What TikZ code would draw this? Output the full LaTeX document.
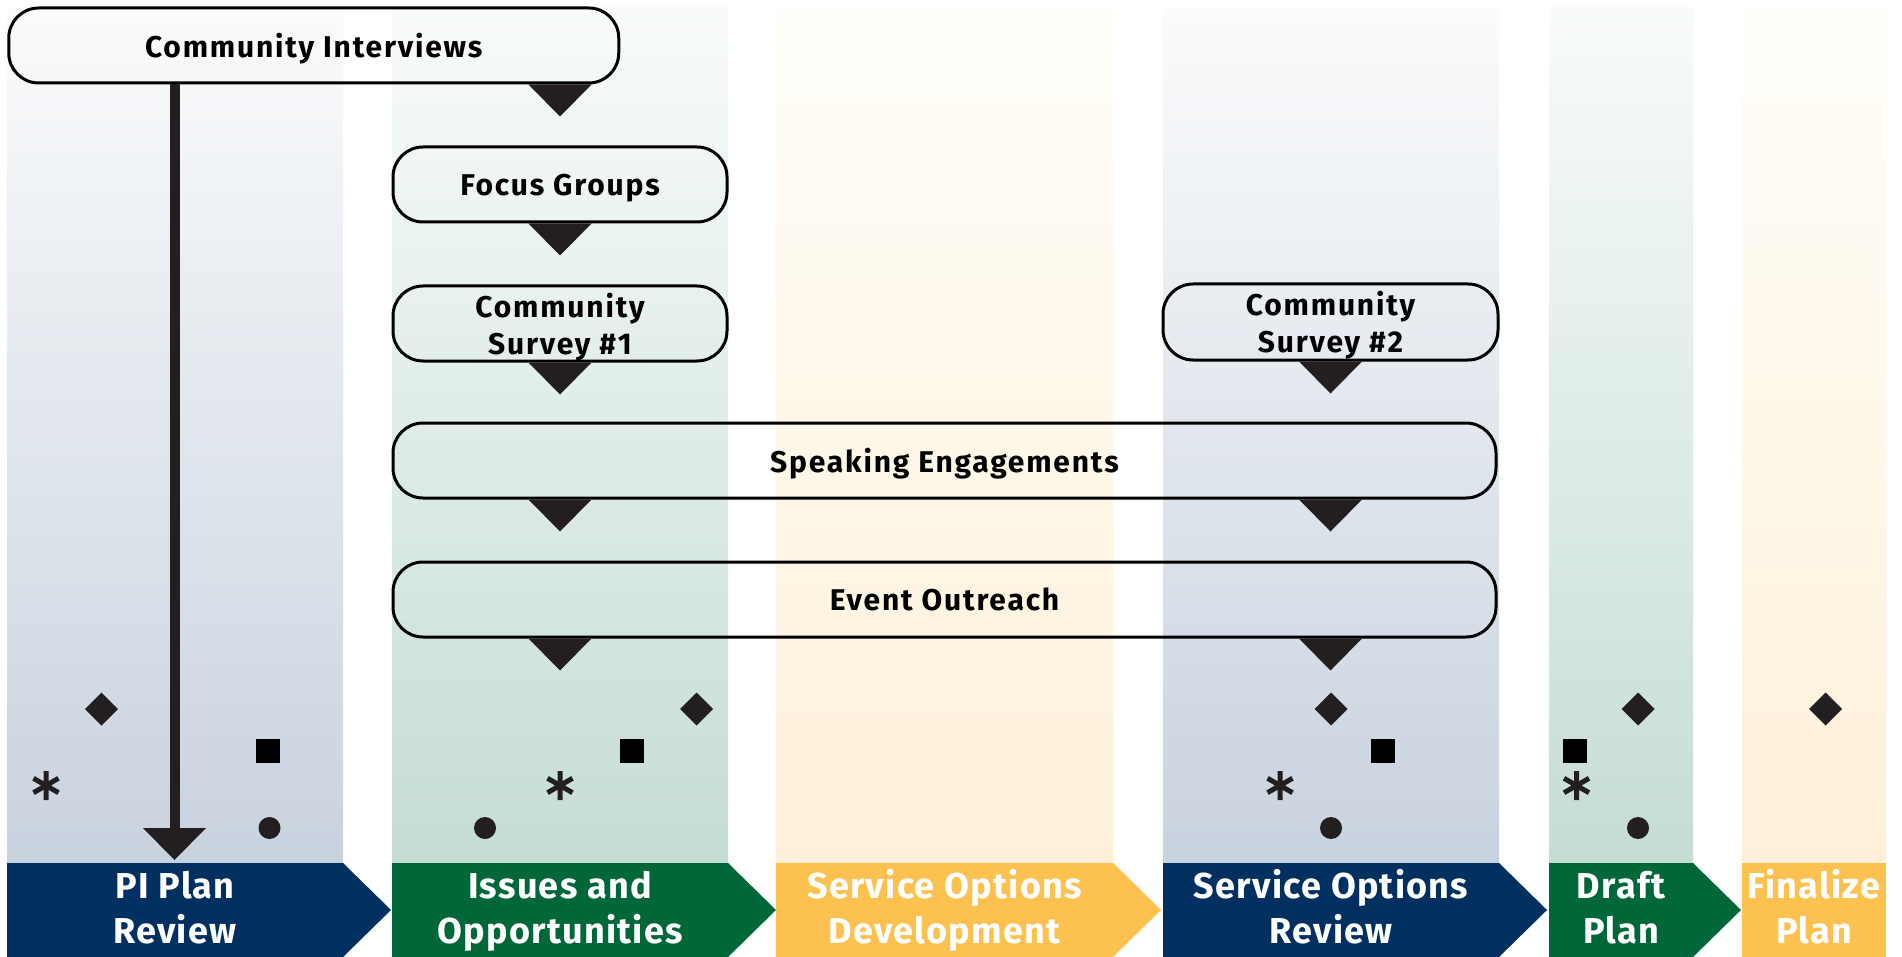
\documentclass[tikz,border=0pt]{standalone}
\usepackage{fontspec}
\setmainfont{Fira Sans}
\newfontfamily\hdrfont{Fira Sans}[LetterSpace=3.5]
\newfontfamily\boxfont{Fira Sans}[LetterSpace=6]
\definecolor{navy}{RGB}{0,48,96}
\definecolor{dgreen}{RGB}{0,104,56}
\definecolor{gold}{RGB}{253,193,79}
\definecolor{bluebot}{RGB}{200,210,222}
\definecolor{bluetop}{RGB}{250,251,252}
\definecolor{greenbot}{RGB}{197,221,211}
\definecolor{greentop}{RGB}{248,251,250}
\definecolor{goldbot}{RGB}{254,240,216}
\definecolor{goldtop}{RGB}{255,254,250}
\definecolor{symcol}{RGB}{35,31,32}
\tikzset{
  hdrtext/.style={anchor=base, align=center, text=white, inner sep=0pt,
    font=\hdrfont\fontsize{36}{45}\selectfont\bfseries},
  box/.style={draw=black, line width=3pt, rounded corners=30pt, inner sep=0pt,
    text depth=0pt, align=center, font=\boxfont\fontsize{30}{37}\selectfont\bfseries},
  dtri/.pic={\fill[symcol] (-31.5,0) -- (31.5,0) -- (0,32) -- cycle;},
  dia/.pic={\fill[symcol] (0,-16.5) -- (16.5,0) -- (0,16.5) -- (-16.5,0) -- cycle;},
  sqr/.pic={\fill[black] (-12,-12) rectangle (12,12);},
  bullet/.pic={\fill[symcol] (0,0) circle[radius=11];},
  aster/.pic={\draw[symcol, line width=5pt] (0,-14.5) -- (0,14.5)
      (-12.5,-7.2) -- (12.5,7.2) (-12.5,7.2) -- (12.5,-7.2);}
}
\begin{document}
\begin{tikzpicture}[x=1pt,y=-1pt]
\useasboundingbox (0,0) rectangle (1902,957);
\fill[white] (0,0) rectangle (1902,957);
% column backgrounds
\shade[top color=bluetop, bottom color=bluebot] (7,8) rectangle (343,863);
\shade[top color=greentop, bottom color=greenbot] (392,8) rectangle (728,863);
\shade[top color=goldtop, bottom color=goldbot] (776,8) rectangle (1113,863);
\shade[top color=bluetop, bottom color=bluebot] (1163,8) rectangle (1499,863);
\shade[top color=greentop, bottom color=greenbot] (1549,8) rectangle (1693,863);
\shade[top color=goldtop, bottom color=goldbot] (1742,8) rectangle (1886,863);
% header arrows
\fill[navy] (7,863) -- (343,863) -- (391,910) -- (343,957) -- (7,957) -- cycle;
\fill[dgreen] (392,863) -- (728,863) -- (776,910) -- (728,957) -- (392,957) -- cycle;
\fill[gold] (776,863) -- (1113,863) -- (1161,910) -- (1113,957) -- (776,957) -- cycle;
\fill[navy] (1163,863) -- (1499,863) -- (1547,910) -- (1499,957) -- (1163,957) -- cycle;
\fill[dgreen] (1549,863) -- (1693,863) -- (1741,910) -- (1693,957) -- (1549,957) -- cycle;
\fill[gold] (1742,863) rectangle (1886,957);
\node[hdrtext] (h1) at (175,943) {PI Plan\\Review};
\node[hdrtext] (h2) at (560,943) {Issues and\\Opportunities};
\node[hdrtext] (h3) at (944.5,943) {Service Options\\Development};
\node[hdrtext] (h4) at (1331,943) {Service Options\\Review};
\node[hdrtext] (h5) at (1621,943) {Draft\\Plan};
\node[hdrtext] (h6) at (1814,943) {Finalize\\Plan};
% boxes
\node[box, minimum width=610pt, minimum height=75pt] (ci) at (313.75,45.5) {Community Interviews};
\node[box, minimum width=334pt, minimum height=75pt] (fg) at (560,184.5) {Focus Groups};
\node[box, minimum width=334pt, minimum height=75pt] (s1) at (560,323.5) {Community\\Survey \#1};
\node[box, minimum width=335pt, minimum height=76pt] (s2) at (1330.5,322) {Community\\Survey \#2};
\node[box, minimum width=1103pt, minimum height=75pt] (se) at (944.5,460.5) {Speaking Engagements};
\node[box, minimum width=1103pt, minimum height=75pt] (eo) at (944.5,599.5) {Event Outreach};
% connectors
\pic at (ci.south -| fg.south) {dtri};
\pic at (fg.south) {dtri};
\pic at (s1.south) {dtri};
\pic at (s2.south) {dtri};
\pic at (se.south -| fg.south) {dtri};
\pic at (se.south -| s2.south) {dtri};
\pic at (eo.south -| fg.south) {dtri};
\pic at (eo.south -| s2.south) {dtri};
\coordinate (pitip) at (174.5,860);
\draw[line width=10pt, symcol] (ci.south -| pitip) -- ([yshift=31pt]pitip);
\fill[symcol] (pitip) -- +(-31.5,-32) -- +(31.5,-32) -- cycle;
% symbols
\pic at (101.5,709) {dia};
\pic at (267.5,751) {sqr};
\pic at (46,785.5) {aster};
\pic at (269.5,828) {bullet};
\pic at (696.5,709) {dia};
\pic at (632,751) {sqr};
\pic at (560,785.5) {aster};
\pic at (485,828) {bullet};
\pic at (1331,709) {dia};
\pic at (1382.5,751) {sqr};
\pic at (1280,785.5) {aster};
\pic at (1331,828) {bullet};
\pic at (1638,709) {dia};
\pic at (1575,751) {sqr};
\pic at (1576.5,785.5) {aster};
\pic at (1638,828) {bullet};
\pic at (1825.5,709) {dia};
\end{tikzpicture}
\end{document}
